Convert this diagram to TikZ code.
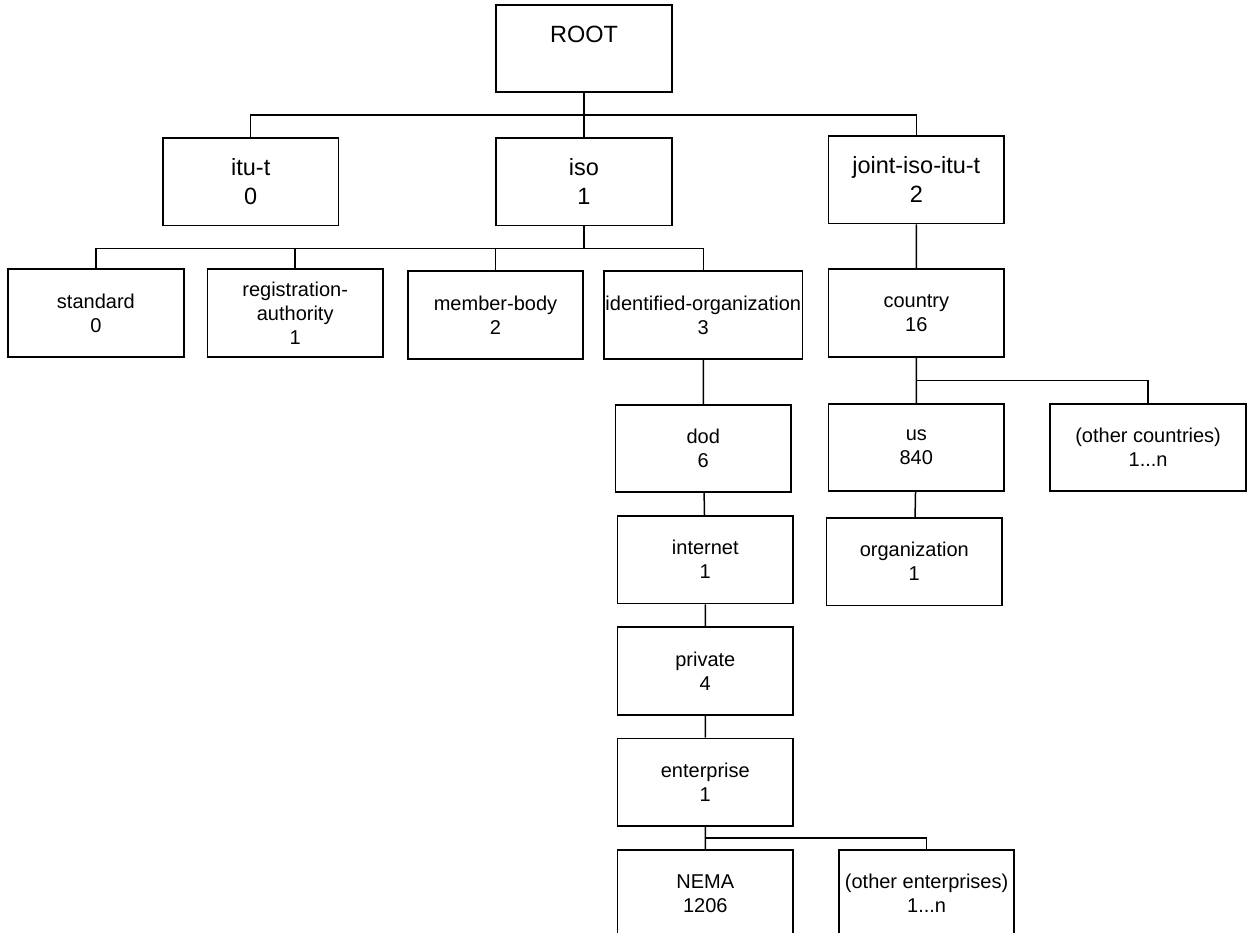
\documentclass[tikz,border=0pt]{standalone}
\usepackage{fontspec}
\setmainfont{Liberation Sans}
\usepackage{tikz}
\usetikzlibrary{positioning,calc}

\begin{document}
\begin{tikzpicture}[
  oidbox/.style={draw,line width=1.8pt,fill=white,minimum width=175.5pt,minimum height=87.5pt,inner sep=1pt,align=center,font=\fontsize{20}{24}\selectfont},
  topbox/.style={oidbox,font=\fontsize{23.5}{29}\selectfont},
  link/.style={line width=1.5pt}]
\useasboundingbox[fill=white] (0,0) rectangle (1247pt,-932pt);
% top levels
\node[topbox] (root) at (584pt,-48.5pt) {ROOT\\~};
\node[topbox,below=44pt of root] (iso) {iso\\1};
\node[topbox,left=156pt of iso] (itu) {itu-t\\0};
\node[topbox,right=155pt of iso,yshift=2pt] (joint) {joint-iso-itu-t\\2};
% under iso
\node[oidbox,below=44pt of iso,xshift=-88.5pt] (mem) {member-body\\2};
\node[oidbox,right=19pt of mem,minimum width=198.5pt] (ident) {identified-organization\\3};
\node[oidbox,left=23pt of mem,yshift=2pt] (reg) {registration-\\authority\\1};
\node[oidbox,left=22pt of reg] (std) {standard\\0};
% down to the enterprises
\node[oidbox,below=44pt of ident] (dod) {dod\\6};
\node[oidbox,below=22pt of dod,xshift=2pt] (inet) {internet\\1};
\node[oidbox,below=22pt of inet] (priv) {private\\4};
\node[oidbox,below=22pt of priv] (ent) {enterprise\\1};
\node[oidbox,below=22pt of ent] (nema) {NEMA\\1206};
\node[oidbox,right=44pt of nema] (oent) {(other enterprises)\\1...n};
% under joint-iso-itu-t
\node[oidbox,below=44pt of joint] (cty) {country\\16};
\node[oidbox,below=45pt of cty] (us) {us\\840};
\node[oidbox,right=44pt of us,minimum width=196.5pt] (octy) {(other countries)\\1...n};
\node[oidbox,below=25pt of us,xshift=-2pt] (org) {organization\\1};
% bus points
\coordinate (b1) at ($(root.south)!.5!(iso.north)$);
\coordinate (b2) at ($(iso.south)!.5!(iso.south |- mem.north)$);
\coordinate (b3) at ($(cty.south)!.5!(us.north)$);
\coordinate (b4) at ($(ent.south)!.5!(nema.north)$);
\draw[link] (root)--(iso);
\draw[link] (itu.north) |- (b1) -| (joint.north);
\draw[link] (iso.south)--(b2);
\draw[link] (std.north) |- (b2) -| (ident.north);
\draw[link] (reg.north)--(reg.north |- b2);
\draw[link] (mem.north)--(mem.north |- b2);
\draw[link] (ident)--(dod)--(inet)--(priv)--(ent)--(nema);
\draw[link] (b4) -| (oent.north);
\draw[link] (joint)--(cty)--(us)--(org);
\draw[link] (b3) -| (octy.north);
\end{tikzpicture}
\end{document}
